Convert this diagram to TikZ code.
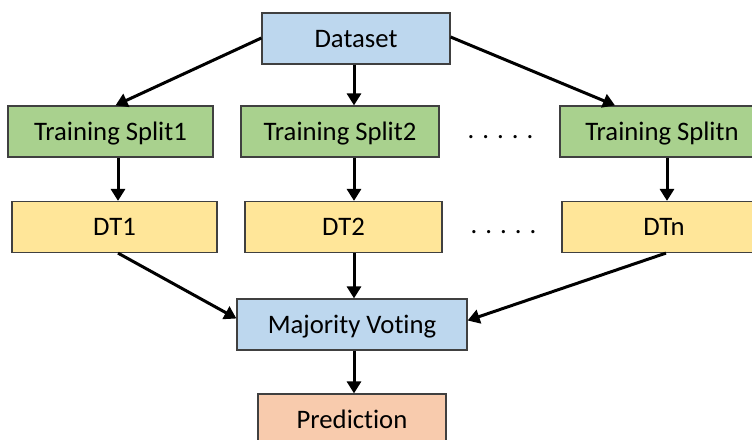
\documentclass[tikz,border=0pt]{standalone}
\usepackage{fontspec}
\setmainfont[Ligatures=NoCommon]{Carlito}
\usetikzlibrary{arrows.meta}
\definecolor{bluebox}{HTML}{BDD7EE}
\definecolor{greenbox}{HTML}{A9D18E}
\definecolor{yellowbox}{HTML}{FFE699}
\definecolor{salmonbox}{HTML}{F8CBAD}
\definecolor{edgegray}{HTML}{404040}
\tikzset{
  box/.style={draw=edgegray, line width=1.2pt, inner sep=0pt, minimum height=51pt, text height=17pt, text depth=0pt, font=\fontsize{26.7}{30}\selectfont},
  arr/.style={line width=3pt, -{Triangle[length=12pt,width=14pt]}},
  dotsnode/.style={inner sep=0pt, text height=17pt, text depth=0pt, font=\fontsize{26.7}{30}\selectfont}
}
\begin{document}
\begin{tikzpicture}[x=1pt,y=-1pt]
\useasboundingbox (0,0) rectangle (752,439);
\clip (0,0) rectangle (752,439);
\node[box, fill=bluebox, minimum width=188pt] (ds) at (356,38.5) {Dataset};
\node[box, fill=greenbox, minimum width=205pt] (s1) at (110.5,131.5) {Training Split1};
\node[box, fill=greenbox, minimum width=198pt] (s2) at (340,131.5) {Training Split2};
\node[box, fill=greenbox, minimum width=204pt] (sn) at (662,131.5) {Training Splitn};
\node[box, fill=yellowbox, minimum width=205pt] (d1) at (114.5,227) {DT1};
\node[box, fill=yellowbox, minimum width=197pt] (d2) at (343.5,227) {DT2};
\node[box, fill=yellowbox, minimum width=204pt] (dn) at (664,227) {DTn};
\node[box, fill=bluebox, minimum width=230pt] (mv) at (352,324.5) {Majority Voting};
\node[box, fill=salmonbox, minimum width=188pt] (pr) at (352,419.5) {Prediction};
\node[dotsnode] (dots1) at (500.5,129.5) {. . . . .};
\node[dotsnode] (dots2) at (503.5,224.5) {. . . . .};
\draw[arr] ([yshift=0.5pt]ds.west) -- ([xshift=5pt]s1.north);
\draw[arr] ([xshift=-2pt]ds.south) -- ([xshift=14pt]s2.north);
\draw[arr] ([yshift=1.5pt]ds.east) -- ([xshift=-47pt]sn.north);
\draw[arr] ([xshift=7.5pt]s1.south) -- ([xshift=3.5pt]d1.north);
\draw[arr] ([xshift=14pt]s2.south) -- ([xshift=10.5pt]d2.north);
\draw[arr] ([xshift=5pt]sn.south) -- ([xshift=3pt]dn.north);
\draw[arr] ([xshift=3.5pt]d1.south) -- ([yshift=6pt]mv.west);
\draw[arr] ([xshift=10.5pt]d2.south) -- ([xshift=2pt]mv.north);
\draw[arr] ([xshift=2pt]dn.south) -- ([yshift=4pt]mv.east);
\draw[arr] ([xshift=2pt]mv.south) -- ([xshift=2pt]pr.north);
\end{tikzpicture}
\end{document}
